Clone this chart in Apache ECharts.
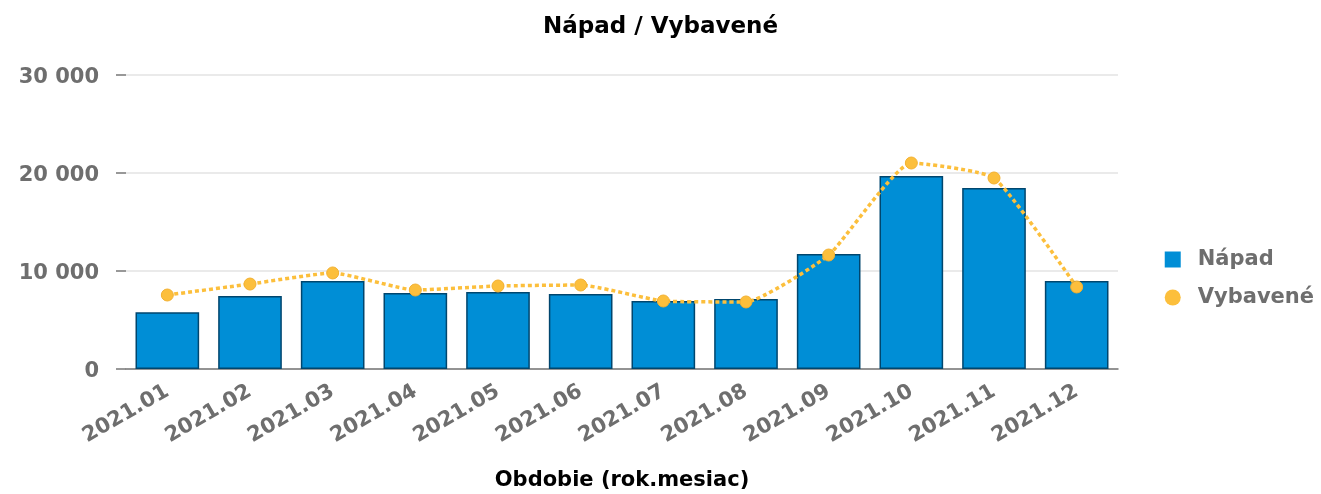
<!DOCTYPE html>
<html>
<head>
<meta charset="utf-8">
<script src="https://cdn.jsdelivr.net/npm/echarts@6/dist/echarts.min.js"></script>
<style>
  html, body { margin: 0; padding: 0; background: #fff; }
  #chart { width: 1321px; height: 494px; }
</style>
</head>
<body>
<div id="chart"></div>
<script>
// 数据
const months = ['2021.01', '2021.02', '2021.03', '2021.04', '2021.05', '2021.06',
  '2021.07', '2021.08', '2021.09', '2021.10', '2021.11', '2021.12']
const napad = [5800, 7450, 8980, 7760, 7860, 7650, 6940, 7140, 11730, 19700, 18470, 8980]
const vybavene = [7550, 8670, 9800, 8060, 8470, 8570, 6940, 6840, 11630, 21020, 19490, 8370]

const fontFamily = '"DejaVu Sans", sans-serif'
const grey = '#6e6e6e'

const chart = echarts.init(document.getElementById('chart'))

chart.setOption({
  animation: false,
  title: {
    text: 'Nápad / Vybavené',
    left: 'center',
    top: 11,
    textStyle: { color: '#000', fontSize: 23, fontWeight: 'bold', fontFamily }
  },
  legend: {
    orient: 'vertical',
    right: 2,
    top: 244,
    itemWidth: 16,
    itemHeight: 16,
    itemGap: 17,
    itemStyle: { borderWidth: 0 },
    textStyle: { color: grey, fontSize: 21, fontWeight: 'bold', fontFamily, padding: [0, 0, 0, 12] },
    data: [
      { name: 'Nápad', icon: 'rect' },
      { name: 'Vybavené', icon: 'circle' }
    ]
  },
  grid: { left: 126, right: 203, top: 75, bottom: 125, outerBoundsMode: 'none' },
  xAxis: {
    type: 'category',
    data: months,
    name: 'Obdobie (rok.mesiac)',
    nameLocation: 'middle',
    nameGap: 101,
    nameTextStyle: { color: '#000', fontSize: 21, fontWeight: 'bold', fontFamily },
    axisLine: { lineStyle: { color: '#777', width: 1.5 } },
    axisTick: { lineStyle: { color: '#777', width: 1.5 }, length: 8 },
    axisLabel: {
      color: grey, fontSize: 21, fontWeight: 'bold', fontFamily,
      rotate: 30, margin: 21, interval: 0
    }
  },
  yAxis: {
    type: 'value',
    min: 0,
    max: 30000,
    interval: 10000,
    axisLine: { show: false },
    axisTick: { show: true, length: 10, lineStyle: { color: '#777', width: 1.5 } },
    axisLabel: {
      margin: 27,
      formatter: v => '{t|' + String(v).replace(/\B(?=(\d{3})+(?!\d))/g, ' ') + '}',
      rich: {
        t: { color: grey, fontSize: 21, fontWeight: 'bold', fontFamily, padding: [6, 0, 0, 0] }
      }
    },
    splitLine: { lineStyle: { color: '#e3e3e3', width: 1.5 } }
  },
  series: [
    {
      name: 'Nápad',
      type: 'bar',
      data: napad,
      barCategoryGap: '23%',
      itemStyle: { color: '#008ed6', borderColor: '#00466e', borderWidth: 1.5 }
    },
    {
      name: 'Vybavené',
      type: 'line',
      data: vybavene,
      smooth: 0.15,
      symbol: 'circle',
      symbolSize: 12,
      itemStyle: { color: '#fcbf3c', borderColor: '#f2b030', borderWidth: 1 },
      lineStyle: { color: '#fcbf3c', width: 3.5, type: [4, 3] }
    }
  ]
})
</script>
</body>
</html>
